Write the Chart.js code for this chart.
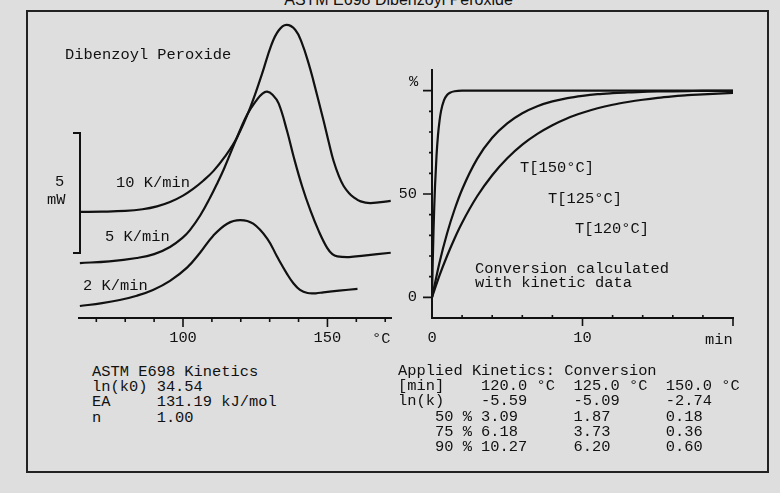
<!DOCTYPE html>
<html><head><meta charset="utf-8">
<script src="https://cdn.jsdelivr.net/npm/chart.js@4.4.0/dist/chart.umd.min.js"></script>
<style>
html,body{margin:0;padding:0;}
body{width:780px;height:493px;background:#dedede;position:relative;overflow:hidden;font-family:"Liberation Mono","DejaVu Sans Mono",monospace;color:#111;}
.t{position:absolute;font-size:15.4px;line-height:16px;white-space:pre;z-index:2;}
pre{position:absolute;margin:0;font-family:inherit;font-size:15.4px;line-height:15.2px;color:#111;z-index:2;}
#frame{position:absolute;left:26px;top:10px;width:743px;height:463px;border:2px solid #222;box-sizing:border-box;}
#title{position:absolute;left:0;width:797px;text-align:center;top:-8px;font-family:"Liberation Sans",Arial,sans-serif;font-size:16px;line-height:16px;color:#111;}
#bracket{position:absolute;left:73px;top:132px;width:8px;height:122px;border-top:2px solid #111;border-right:2px solid #111;border-bottom:2px solid #111;box-sizing:border-box;}
canvas{position:absolute;top:0;}
</style></head><body>
<div id="frame"></div>
<div id="title">ASTM E698 Dibenzoyl Peroxide</div>
<canvas id="cL" width="400" height="360" style="left:0px;width:400px;height:360px"></canvas>
<canvas id="cR" width="380" height="360" style="left:400px;width:380px;height:360px"></canvas>
<div id="bracket"></div>
<div class="t" style="left:65px;top:47px">Dibenzoyl Peroxide</div>
<div class="t" style="left:55px;top:174px">5</div>
<div class="t" style="left:47px;top:192px">mW</div>
<div class="t" style="left:116px;top:175px">10 K/min</div>
<div class="t" style="left:105px;top:229px">5 K/min</div>
<div class="t" style="left:83px;top:278px">2 K/min</div>
<div class="t" style="left:372px;top:331px">°C</div>
<div class="t" style="left:409px;top:74px">%</div>
<div class="t" style="left:705px;top:332px">min</div>
<div class="t" style="left:520px;top:160px">T[150°C]</div>
<div class="t" style="left:548px;top:191px">T[125°C]</div>
<div class="t" style="left:575px;top:221px">T[120°C]</div>
<pre style="left:475px;top:262px;line-height:14px">Conversion calculated
with kinetic data</pre>
<pre id="tblL" style="left:92px;top:365px"></pre>
<pre id="tblR" style="left:398px;top:364px"></pre>
<script>
// ---- DSC curves (left panel): temperature in °C, heat flow in mW (offset per curve)
const dscTemp10 = [64.3, 72.0, 80.0, 86.0, 91.0, 95.5, 100.0, 103.5, 107.0, 110.5, 114.5, 118.6, 123.3, 127.3, 130.6, 133.1, 135.8, 138.9, 141.2, 143.5, 145.1, 148.6, 150.5, 152.1, 154.0, 155.6, 157.5, 159.0, 161.5, 164.9, 171.9];
const dscHeat10 = [4.42, 4.43, 4.46, 4.53, 4.65, 4.83, 5.10, 5.38, 5.72, 6.12, 6.72, 7.50, 8.78, 10.15, 11.38, 11.98, 12.21, 12.00, 11.44, 10.60, 9.90, 8.25, 7.30, 6.55, 5.90, 5.50, 5.20, 5.04, 4.86, 4.79, 4.88];
const dscTemp5 = [64.3, 74.5, 84.0, 90.0, 95.5, 100.0, 102.4, 106.0, 109.4, 112.0, 114.2, 118.1, 122.1, 125.6, 127.5, 129.1, 131.0, 133.1, 136.0, 138.3, 141.2, 144.1, 147.0, 149.9, 151.7, 153.4, 157.5, 162.6, 171.9];
const dscHeat5 = [2.29, 2.36, 2.50, 2.66, 2.96, 3.36, 3.66, 4.28, 5.02, 5.65, 6.22, 7.35, 8.45, 9.10, 9.35, 9.43, 9.30, 8.94, 7.80, 6.72, 5.50, 4.48, 3.62, 2.92, 2.66, 2.57, 2.54, 2.60, 2.72];
const dscTemp2 = [64.3, 72.0, 78.1, 84.0, 89.6, 95.5, 101.4, 105.9, 110.4, 115.3, 119.8, 124.3, 129.2, 132.6, 136.1, 138.2, 140.5, 143.1, 146.0, 148.6, 154.0, 160.4];
const dscHeat2 = [0.50, 0.62, 0.75, 0.93, 1.17, 1.55, 2.10, 2.72, 3.42, 3.93, 4.08, 3.93, 3.30, 2.55, 1.82, 1.45, 1.17, 1.04, 1.03, 1.07, 1.14, 1.21];
const leftTickLabels = [100, 150];
const leftMinorTicks = [70, 80, 90, 110, 120, 130, 140, 160, 170];
const leftMajorTicks = [100, 150];

// ---- Conversion curves (right panel): time in min, conversion in %
const timeSlow = [0, 0.5, 1, 1.5, 2, 3, 4, 5, 6, 7, 8, 9, 10, 11, 12, 13, 14, 15, 16, 17, 18, 19, 20];
const conv120 = [0, 10.6, 20.0, 28.5, 36.1, 48.9, 59.1, 67.3, 73.9, 79.1, 83.3, 86.7, 89.3, 91.5, 93.2, 94.5, 95.6, 96.5, 97.2, 97.8, 98.2, 98.6, 98.9];
const conv125 = [0, 16.9, 30.9, 42.5, 52.2, 67.0, 77.2, 84.2, 89.1, 92.5, 94.8, 96.4, 97.5, 98.3, 98.8, 99.2, 99.4, 99.6, 99.7, 99.8, 99.9, 99.9, 99.9];
const timeFast = [0, 0.05, 0.1, 0.15, 0.2, 0.3, 0.4, 0.5, 0.6, 0.8, 1.0, 1.2, 1.5, 2, 20];
const conv150 = [0, 17.5, 32.0, 43.9, 53.7, 68.5, 78.6, 85.4, 90.1, 95.4, 97.9, 99.0, 99.7, 100, 100];
const rightXLabels = [0, 10];
const rightYLabels = [0, 50];
const rightXMinor = [2, 4, 6, 8, 12, 14, 16, 18];
const rightXMajor = [10, 20];
const rightYMinor = [10, 20, 30, 40, 60, 70, 80, 90];
const rightYMajor = [0, 50, 100];

// ---- Text tables
const kineticsLines = ["ASTM E698 Kinetics", "ln(k0) 34.54", "EA     131.19 kJ/mol", "n      1.00"];
const convTempHeads = ["120.0 °C", "125.0 °C", "150.0 °C"];
const convLnK = ["-5.59", "-5.09", "-2.74"];
const convLevels = ["50", "75", "90"];
const convTimes = [["3.09", "1.87", "0.18"], ["6.18", "3.73", "0.36"], ["10.27", "6.20", "0.60"]];

function pad(s, n) { s = String(s); while (s.length < n) s += " "; return s; }
document.getElementById('tblL').textContent = kineticsLines.join("\n");
const rLines = ["Applied Kinetics: Conversion"];
rLines.push(pad("[min]", 9) + convTempHeads.map(h => pad(h, 10)).join("").trimEnd());
rLines.push(pad("ln(k)", 9) + convLnK.map(v => pad(v, 10)).join("").trimEnd());
convLevels.forEach((lv, i) => {
  rLines.push(pad("    " + lv + " %", 9) + convTimes[i].map(v => pad(v, 10)).join("").trimEnd());
});
document.getElementById('tblR').textContent = rLines.join("\n");

const ink = '#111';
const monoFont = { family: '"Liberation Mono", "DejaVu Sans Mono", monospace', size: 15.4 };
function pts(xs, ys) { return xs.map((x, i) => ({ x: x, y: ys[i] })); }
function dscDs(xs, ys) {
  return { data: pts(xs, ys), borderColor: ink, borderWidth: 2.2, pointRadius: 0, fill: false, tension: 0.4 };
}
function convDs(xs, ys) {
  return { data: pts(xs, ys), borderColor: ink, borderWidth: 2.2, pointRadius: 0, fill: false, cubicInterpolationMode: 'monotone' };
}

const leftTicksPlugin = {
  id: 'leftTicks',
  afterDraw(chart) {
    const { ctx, chartArea: a } = chart; const x = chart.scales.x;
    ctx.save(); ctx.strokeStyle = ink; ctx.lineWidth = 1.6;
    ctx.beginPath();
    leftMinorTicks.forEach(v => { const p = x.getPixelForValue(v); ctx.moveTo(p, a.bottom); ctx.lineTo(p, a.bottom + 4); });
    leftMajorTicks.forEach(v => { const p = x.getPixelForValue(v); ctx.moveTo(p, a.bottom); ctx.lineTo(p, a.bottom + 9); });
    ctx.stroke(); ctx.restore();
  }
};
const rightTicksPlugin = {
  id: 'rightTicks',
  afterDraw(chart) {
    const { ctx, chartArea: a } = chart; const x = chart.scales.x, y = chart.scales.y;
    ctx.save(); ctx.strokeStyle = ink; ctx.lineWidth = 1.6;
    ctx.beginPath();
    rightXMinor.forEach(v => { const p = x.getPixelForValue(v); ctx.moveTo(p, a.bottom); ctx.lineTo(p, a.bottom - 3); });
    rightXMajor.forEach(v => { const p = x.getPixelForValue(v); ctx.moveTo(p, a.bottom); ctx.lineTo(p, a.bottom + 8); });
    rightYMinor.forEach(v => { const p = y.getPixelForValue(v); ctx.moveTo(a.left, p); ctx.lineTo(a.left - 3, p); });
    rightYMajor.forEach(v => { const p = y.getPixelForValue(v); ctx.moveTo(a.left, p); ctx.lineTo(a.left - 9, p); });
    ctx.stroke(); ctx.restore();
  }
};

new Chart(document.getElementById('cL'), {
  type: 'line',
  data: { datasets: [dscDs(dscTemp10, dscHeat10), dscDs(dscTemp5, dscHeat5), dscDs(dscTemp2, dscHeat2)] },
  options: {
    responsive: false, animation: false, events: [],
    layout: { padding: { left: 79, right: 9, top: 12, bottom: 0 } },
    plugins: { legend: { display: false }, tooltip: { enabled: false } },
    scales: {
      x: {
        type: 'linear', min: 64, max: 172, bounds: 'data',
        afterBuildTicks: s => { s.ticks = leftTickLabels.map(v => ({ value: v })); },
        afterFit: s => { s.height = 42; },
        grid: { display: false, drawTicks: false },
        border: { display: true, color: ink, width: 2 },
        ticks: { font: monoFont, color: ink, padding: 11, maxRotation: 0, autoSkip: false }
      },
      y: { display: false, type: 'linear', min: 0, max: 12.75 }
    }
  },
  plugins: [leftTicksPlugin]
});

new Chart(document.getElementById('cR'), {
  type: 'line',
  data: { datasets: [convDs(timeFast, conv150), convDs(timeSlow, conv125), convDs(timeSlow, conv120)] },
  options: {
    responsive: false, animation: false, events: [],
    layout: { padding: { left: 0, right: 47, top: 70, bottom: 0 } },
    plugins: { legend: { display: false }, tooltip: { enabled: false } },
    scales: {
      x: {
        type: 'linear', min: 0, max: 20, bounds: 'data',
        afterBuildTicks: s => { s.ticks = rightXLabels.map(v => ({ value: v })); },
        afterFit: s => { s.height = 42; },
        grid: { display: false, drawTicks: false },
        border: { display: true, color: ink, width: 2 },
        ticks: { font: monoFont, color: ink, padding: 11, maxRotation: 0, autoSkip: false }
      },
      y: {
        type: 'linear', min: -10, max: 110, bounds: 'data',
        afterBuildTicks: s => { s.ticks = rightYLabels.map(v => ({ value: v })); },
        afterFit: s => { s.width = 32; },
        grid: { display: false, drawTicks: false },
        border: { display: true, color: ink, width: 2 },
        ticks: { font: monoFont, color: ink, padding: 15, autoSkip: false }
      }
    }
  },
  plugins: [rightTicksPlugin]
});
</script>
</body></html>
